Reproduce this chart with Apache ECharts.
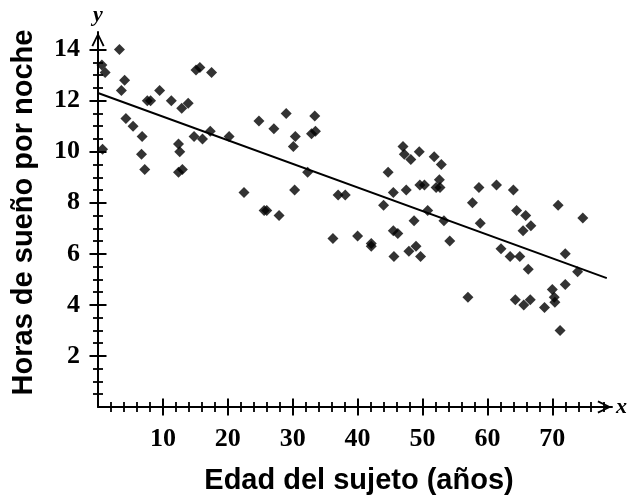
<!DOCTYPE html>
<html><head><meta charset="utf-8">
<script src="https://cdn.jsdelivr.net/npm/echarts@6/dist/echarts.min.js"></script>
<style>html,body{margin:0;padding:0;background:#fff}#c{width:640px;height:496px}</style>
</head><body><div id="c"></div>
<script>
const ages = [0.6,1.1,0.7,3.3,4.1,3.6,4.3,5.4,6.8,6.7,7.2,7.6,8.1,9.5,11.3,12.4,12.6,12.4,13.0,12.9,13.9,14.8,15.1,15.7,16.1,17.3,17.5,20.2,22.5,24.8,25.6,26.0,27.1,27.9,29.0,30.1,30.4,30.3,32.3,32.9,33.5,33.4,36.2,37.0,38.1,40.0,42.1,42.1,44.0,44.7,45.5,45.5,46.2,45.6,47.0,47.2,47.5,48.2,47.9,48.7,49.0,49.7,49.5,49.6,50.3,50.8,51.8,52.6,52.9,52.1,52.7,53.3,54.2,57.0,57.7,58.7,58.9,61.4,62.1,63.5,64.0,64.5,64.3,65.0,65.5,65.9,65.6,66.3,66.6,66.7,68.8,70.9,70.0,70.3,70.4,71.2,72.0,72.0,73.9,74.7];
const hours = [13.4,13.1,10.1,14.0,12.8,12.4,11.3,11.0,10.6,9.9,9.3,12.0,12.0,12.4,12.0,10.3,10.0,9.2,9.3,11.7,11.9,10.6,13.2,13.3,10.5,10.8,13.1,10.6,8.4,11.2,7.7,7.7,10.9,7.5,11.5,10.2,10.6,8.5,9.2,10.7,10.8,11.4,6.6,8.3,8.3,6.7,6.4,6.3,7.9,9.2,8.4,6.9,6.8,5.9,10.2,9.9,8.5,9.7,6.1,7.3,6.3,5.9,10.0,8.7,8.7,7.7,9.8,8.9,9.5,8.6,8.6,7.3,6.5,4.3,8.0,8.6,7.2,8.7,6.2,5.9,8.5,7.7,4.2,5.9,6.9,7.5,4.0,5.4,4.2,7.1,3.9,7.9,4.6,4.3,4.1,3.0,6.0,4.8,5.3,7.4];
const fitAges = [0, 78.4];
const fitHours = [12.3, 5.05];
const xMajorTicks = [10,20,30,40,50,60,70];
const xMinorTicks = [2,4,6,8,12,14,16,18,22,24,26,28,32,34,36,38,42,44,46,48,52,54,56,58,62,64,66,68,72,74,76,78];
const yMajorTicks = [2,4,6,8,10,12,14];
const yMinorTicks = [0.5,1,1.5,2.5,3,3.5,4.5,5,5.5,6.5,7,7.5,8.5,9,9.5,10.5,11,11.5,12.5,13,13.5];
const xTitle = 'Edad del sujeto (años)';
const yTitle = 'Horas de sueño por noche';
const X_MAX = 79.2, Y_MAX = 14.69;

const arrowPath = 'path://M6.5,0 L13,13.2 L11.3,14 L6.5,3.8 L1.7,14 L0,13.2 Z';
const black = '#000';
const tickFont = {fontFamily:'Liberation Serif', fontWeight:'bold', fontSize:26, color:black};
const titleFont = {fontFamily:'Liberation Sans', fontWeight:'bold', fontSize:29, color:black};
const varFont = {fontFamily:'Liberation Serif', fontStyle:'italic', fontWeight:'bold', fontSize:22, color:black};

function baseAxis(min, max, position, extra) {
  return Object.assign({
    type:'value', min:min, max:max, position:position,
    splitLine:{show:false},
    axisLine:{show:false, onZero:false},
    axisLabel:{show:false},
    axisTick:{show:false}
  }, extra);
}
// tick-only axis shifted so that outside ticks of double length cross the axis line
function tickAxis(min, max, position, values, half, width) {
  return baseAxis(min, max, position, {
    offset:-half,
    axisTick:{show:true, inside:false, length:2*half, customValues:values, lineStyle:{color:black, width:width}}
  });
}

const chart = echarts.init(document.getElementById('c'), null, {renderer:'canvas'});
chart.setOption({
  animation:false,
  backgroundColor:'#fff',
  grid:{left:98, right:28, top:32, bottom:89, containLabel:false, outerBoundsMode:'none'},
  xAxis:[
    baseAxis(0, X_MAX, 'bottom', {
      axisLine:{show:true, onZero:false, lineStyle:{color:black, width:2}, symbol:['none', arrowPath], symbolSize:[13,15], symbolOffset:[0,-7.5]},
      axisLabel:{show:true, customValues:xMajorTicks, margin:19, ...tickFont},
      name:'x', nameLocation:'end', nameGap:4, nameTextStyle:varFont
    }),
    baseAxis(0, X_MAX, 'bottom', {
      name:xTitle, nameLocation:'middle', nameGap:59,
      nameTextStyle:Object.assign({padding:[0,0,0,8]}, titleFont)
    }),
    tickAxis(0, X_MAX, 'bottom', xMajorTicks, 8.5, 2),
    tickAxis(0, X_MAX, 'bottom', xMinorTicks, 5, 1.8)
  ],
  yAxis:[
    baseAxis(0, Y_MAX, 'left', {
      axisLine:{show:true, onZero:false, lineStyle:{color:black, width:2}, symbol:['none', arrowPath], symbolSize:[13,15], symbolOffset:[0,-7.5]},
      axisLabel:{show:true, customValues:yMajorTicks, margin:18, ...tickFont},
      name:'y', nameLocation:'end', nameGap:6, nameTextStyle:varFont
    }),
    baseAxis(0, Y_MAX, 'left', {
      name:yTitle, nameLocation:'middle', nameGap:60, nameRotate:90,
      nameTextStyle:Object.assign({padding:[0,0,0,14]}, titleFont)
    }),
    tickAxis(0, Y_MAX, 'left', yMajorTicks, 8.5, 2),
    tickAxis(0, Y_MAX, 'left', yMinorTicks, 5, 1.8)
  ],
  series:[
    {
      type:'scatter', symbol:'diamond', symbolSize:11,
      itemStyle:{color:black},
      data: ages.map((a,i)=>[a, hours[i]])
    },
    {
      type:'line', symbol:'none', showSymbol:false,
      lineStyle:{color:black, width:2},
      data: fitAges.map((a,i)=>[a, fitHours[i]])
    }
  ]
});
</script></body></html>
